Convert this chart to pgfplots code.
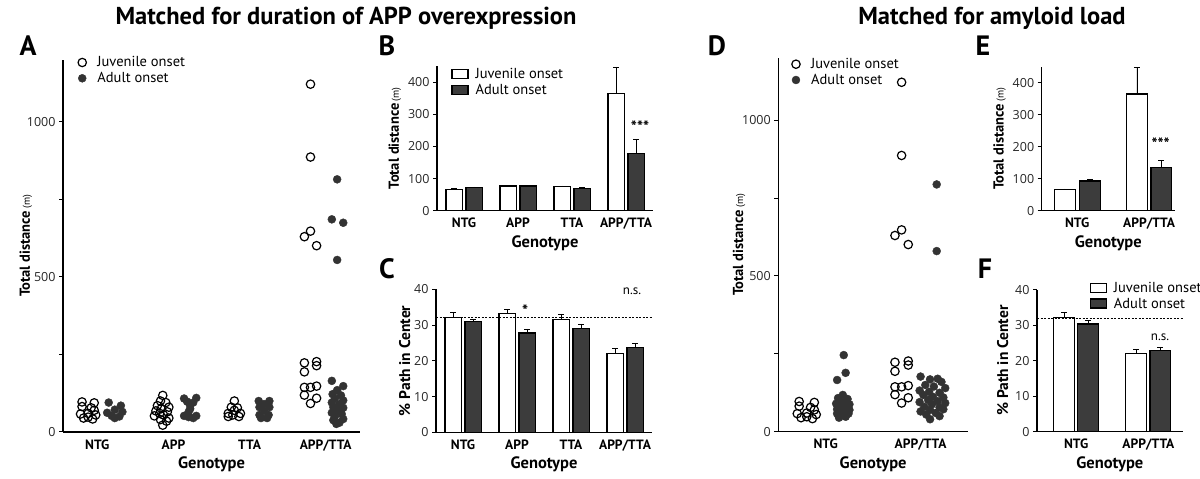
\documentclass[border=0pt]{standalone}
\usepackage{fontspec}
\setmainfont{PT Sans}
\newfontfamily\tickfont{Open Sans}
\usepackage{pgfplots}
\pgfplotsset{compat=1.18}
\definecolor{dk}{HTML}{3C3C3C}
\definecolor{pt}{HTML}{333333}
\pgfplotsset{
  base/.style={
    scale only axis,
    anchor=south west,
    axis x line*=bottom, axis y line*=left,
    axis line style={line width=1.5pt},
    tick align=outside,
    ytick style={line width=1pt,black},
    major tick length=4pt,
    xtick style={draw=none},
    xticklabel style={font=\bfseries\fontsize{13.5}{14}\selectfont},
    yticklabel style={font=\tickfont\fontsize{12.5}{13}\selectfont, color=black!85},
    /pgf/number format/assume math mode=true,
    xlabel style={font=\bfseries\fontsize{16.5}{17}\selectfont, yshift=1pt},
    ylabel style={font=\bfseries\fontsize{14.5}{15}\selectfont},
    xlabel={Genotype},
    ymin=0,
    clip=false,
    legend cell align=left,
  },
  scatleg/.style={legend image code/.code={\draw[##1] plot coordinates {(0pt,0pt)};}},
  barleg/.style={legend image code/.code={\draw[##1] (0pt,-4.5pt) rectangle (16pt,4.5pt);}},
  juv/.style={only marks, mark=o, mark size=4.2pt, mark options={line width=1.2pt}, black, scatleg},
  adu/.style={only marks, mark=*, mark size=4.0pt, color=pt, scatleg},
  eb/.style={error bars/y dir=plus, error bars/y explicit,
    error bars/error bar style={line width=0.7pt,black},
    error bars/error mark options={rotate=90, mark size=3pt, line width=0.7pt,black}},
  jbar/.style={ybar, barleg, fill=white, draw=black, line width=1.3pt, eb},
  abar/.style={ybar, barleg, fill=dk, draw=black, line width=1.3pt, eb},
  scleg/.style={legend style={draw=none, fill=none, inner sep=0pt, font=\fontsize{14.5}{15}\selectfont, row sep=0pt,
      /tikz/every odd column/.append style={column sep=9pt}}},
  brleg/.style={legend style={draw=none, fill=none, inner sep=0pt, font=\fontsize{14.5}{15}\selectfont, row sep=0pt,
      /tikz/every odd column/.append style={column sep=5pt}}},
}
\begin{document}
\begin{tikzpicture}
\useasboundingbox (0,0) rectangle (1200pt,479pt);
% titles
\node[font=\bfseries\fontsize{24.5}{26}\selectfont] at (346pt,461pt) {Matched for duration of APP overexpression};
\node[font=\bfseries\fontsize{24.5}{26}\selectfont] at (992pt,461pt) {Matched for amyloid load};
\node[font=\bfseries\fontsize{28}{30}\selectfont] at (28pt,433pt) {A};
\node[font=\bfseries\fontsize{28}{30}\selectfont] at (387pt,433pt) {B};
\node[font=\bfseries\fontsize{28}{30}\selectfont] at (387pt,210pt) {C};
\node[font=\bfseries\fontsize{28}{30}\selectfont] at (717pt,433pt) {D};
\node[font=\bfseries\fontsize{28}{30}\selectfont] at (983pt,433pt) {E};
\node[font=\bfseries\fontsize{28}{30}\selectfont] at (985pt,210pt) {F};

% ---------------- A ----------------
\begin{axis}[base, at={(63pt,47pt)}, width=297pt, height=372pt,
  xmin=-0.45, xmax=3.45, ymax=1200,
  xtick={0,1,2,3}, xticklabels={NTG,APP,TTA,APP/TTA},
  ytick={0,250,500,750,1000}, yticklabels={0,,500,,1000},
  ylabel={Total distance\,{\mdseries\fontsize{10}{10}\selectfont(m)}}, ylabel shift=-12pt,
  scleg, legend style={at={(axis description cs:0.05,1.015)}, anchor=north west}]
\addplot[juv] coordinates {
 (-0.20,97) (-0.04,94) (-0.20,82) (-0.08,78) (-0.04,70) (-0.22,58) (-0.12,60) (-0.02,55) (-0.18,45) (-0.06,42) (-0.12,48)
 (0.86,118) (0.83,100) (0.90,95) (0.79,85) (0.94,80) (0.84,75) (0.77,68) (0.92,65) (0.82,60) (0.87,55) (0.75,52) (0.94,45) (0.83,40) (0.91,35) (0.86,22)
 (1.80,100) (1.76,80) (1.84,78) (1.80,70) (1.72,60) (1.88,60) (1.78,55) (1.72,50) (1.86,50)
 (2.80,1122) (2.80,887) (2.80,648) (2.72,630) (2.88,601) (2.72,223) (2.88,227) (2.88,214) (2.72,194) (2.72,144) (2.80,144) (2.88,148) (2.72,119) (2.88,109) (2.80,92)
};
\addlegendentry{Juvenile onset}
\addplot[adu] coordinates {
 (0.15,95) (0.31,85) (0.23,72) (0.13,62) (0.33,65) (0.19,52) (0.29,50) (0.23,45)
 (1.14,108) (1.30,110) (1.18,98) (1.26,95) (1.22,85) (1.22,75) (1.20,65) (1.14,52) (1.30,52) (1.20,48) (1.26,45)
 (2.12,100) (2.26,100) (2.19,90) (2.13,80) (2.26,80) (2.19,68) (2.13,55) (2.25,55) (2.15,45) (2.23,45)
 (3.15,815) (3.08,686) (3.23,675) (3.15,555)
 (3.08,165) (3.23,148) (3.15,135) (3.09,122) (3.20,118) (3.12,108) (3.23,102) (3.08,95) (3.18,90) (3.10,80) (3.23,78) (3.15,70) (3.08,62) (3.21,58) (3.12,50) (3.23,42) (3.10,38) (3.18,30) (3.14,26)
};
\addlegendentry{Adult onset}
\end{axis}

% ---------------- B ----------------
\begin{axis}[base, at={(437pt,268.3pt)}, width=216pt, height=144.7pt,
  xmin=-0.5, xmax=3.5, ymax=450,
  xtick={0,1,2,3}, xticklabels={NTG,APP,TTA,APP/TTA},
  ytick={0,100,...,400},
  ylabel={Total distance\,{\mdseries\fontsize{10}{10}\selectfont(m)}},
  brleg, legend style={at={(axis description cs:0.065,1.0)}, anchor=north west}]
\addplot[bar width=0.31, jbar] coordinates {(-0.18,67) +- (0,2) (0.82,77) +- (0,2) (1.82,75) +- (0,2) (2.82,365) +- (0,82)};
\addlegendentry{Juvenile onset}
\addplot[bar width=0.31, abar] coordinates {(0.19,72) +- (0,2) (1.19,77) +- (0,2) (2.19,70) +- (0,2) (3.19,178) +- (0,43)};
\addlegendentry{Adult onset}
\node[font=\bfseries\fontsize{16}{17}\selectfont] at (axis cs:3.26,262) {***};
\end{axis}

% ---------------- C ----------------
\begin{axis}[base, at={(436pt,46.7pt)}, width=216pt, height=143pt,
  xmin=-0.5, xmax=3.5, ymax=40,
  xtick={0,1,2,3}, xticklabels={NTG,APP,TTA,APP/TTA},
  ytick={0,10,...,40},
  ylabel style={font=\bfseries\fontsize{15.5}{16}\selectfont},
  ylabel={\% Path in Center}, ylabel shift=-3pt]
\addplot[bar width=0.31, jbar] coordinates {(-0.18,32.2) +- (0,1.3) (0.82,33.3) +- (0,1.1) (1.82,31.6) +- (0,1.5) (2.82,22.0) +- (0,1.5)};
\addplot[bar width=0.31, abar] coordinates {(0.19,31.0) +- (0,0.7) (1.19,27.8) +- (0,1.1) (2.19,29.0) +- (0,1.3) (3.19,23.8) +- (0,1.0)};
\addplot[dash pattern=on 2pt off 1.5pt, line width=0.8pt] coordinates {(-0.5,32) (3.5,32)};
\node[font=\bfseries\fontsize{16}{17}\selectfont] at (axis cs:1.15,33.9) {*};
\node[font=\fontsize{13}{14}\selectfont] at (axis cs:3.13,39.5) {n.s.};
\end{axis}

% ---------------- D ----------------
\begin{axis}[base, at={(778.3pt,47.3pt)}, width=189.7pt, height=373.7pt,
  xmin=-0.5, xmax=1.5, ymax=1200,
  xtick={0,1}, xticklabels={NTG,APP/TTA},
  ytick={0,250,500,750,1000}, yticklabels={0,,500,,1000},
  ylabel={Total distance\,{\mdseries\fontsize{10}{10}\selectfont(m)}}, ylabel shift=-10pt,
  scleg, legend style={at={(axis description cs:0.07,1.005)}, anchor=north west}]
\addplot[juv] coordinates {
 (-0.28,97) (-0.12,94) (-0.28,82) (-0.16,78) (-0.12,70) (-0.30,58) (-0.20,60) (-0.10,55) (-0.26,45) (-0.14,42) (-0.20,48)
 (0.80,1122) (0.80,887) (0.80,648) (0.73,630) (0.87,601) (0.73,223) (0.87,227) (0.87,214) (0.73,194) (0.73,144) (0.80,144) (0.87,148) (0.73,119) (0.87,109) (0.80,92)
};
\addlegendentry{Juvenile onset}
\addplot[adu] coordinates {
 (0.19,246) (0.21,189) (0.12,166) (0.18,118) (0.13,108) (0.23,105) (0.18,95) (0.11,90) (0.25,88) (0.16,80) (0.22,78) (0.12,72) (0.25,70) (0.18,65) (0.12,58) (0.24,58) (0.16,52) (0.21,48) (0.14,45)
 (1.17,794) (1.17,580)
 (1.00,177) (1.10,168) (1.18,170) (1.22,160) (1.05,150) (1.14,145) (1.26,140) (0.99,132) (1.09,128) (1.20,125) (1.03,118) (1.13,112) (1.24,110) (1.08,102) (1.18,98) (0.99,95) (1.26,92) (1.12,88) (1.04,80) (1.20,78) (1.10,70) (1.24,72) (1.00,65) (1.16,60) (1.06,55) (1.20,50) (1.10,40)
};
\addlegendentry{Adult onset}
\end{axis}

% ---------------- E ----------------
\begin{axis}[base, at={(1041.7pt,268.3pt)}, width=133.3pt, height=144pt,
  xmin=-0.493, xmax=1.36, ymax=450,
  xtick={0,1}, xticklabels={NTG,APP/TTA},
  ytick={0,100,...,400},
  ylabel={Total distance\,{\mdseries\fontsize{10}{10}\selectfont(m)}}]
\addplot[bar width=0.29, jbar] coordinates {(-0.17,67) +- (0,1) (0.83,365) +- (0,83)};
\addplot[bar width=0.29, abar] coordinates {(0.18,93) +- (0,4) (1.17,135) +- (0,22)};
\node[font=\bfseries\fontsize{16}{17}\selectfont] at (axis cs:1.16,210) {***};
\end{axis}

% ---------------- F ----------------
\begin{axis}[base, at={(1037pt,47.3pt)}, width=145.7pt, height=142pt,
  xmin=-0.543, xmax=1.475, ymax=40,
  xtick={0,1}, xticklabels={NTG,APP/TTA},
  ytick={0,10,...,40},
  ylabel style={font=\bfseries\fontsize{15.5}{16}\selectfont},
  ylabel={\% Path in Center},
  brleg, legend style={at={(axis description cs:0.36,1.07)}, anchor=north west}]
\addplot[bar width=0.29, jbar] coordinates {(-0.165,32.2) +- (0,1.4) (0.83,22.0) +- (0,1.2)};
\addlegendentry{Juvenile onset}
\addplot[bar width=0.29, abar] coordinates {(0.165,30.3) +- (0,1.0) (1.165,22.8) +- (0,1.1)};
\addlegendentry{Adult onset}
\addplot[dash pattern=on 2pt off 1.5pt, line width=0.8pt, forget plot] coordinates {(-0.543,32) (1.475,32)};
\node[font=\fontsize{13}{14}\selectfont] at (axis cs:1.16,26.6) {n.s.};
\end{axis}
\end{tikzpicture}
\end{document}
